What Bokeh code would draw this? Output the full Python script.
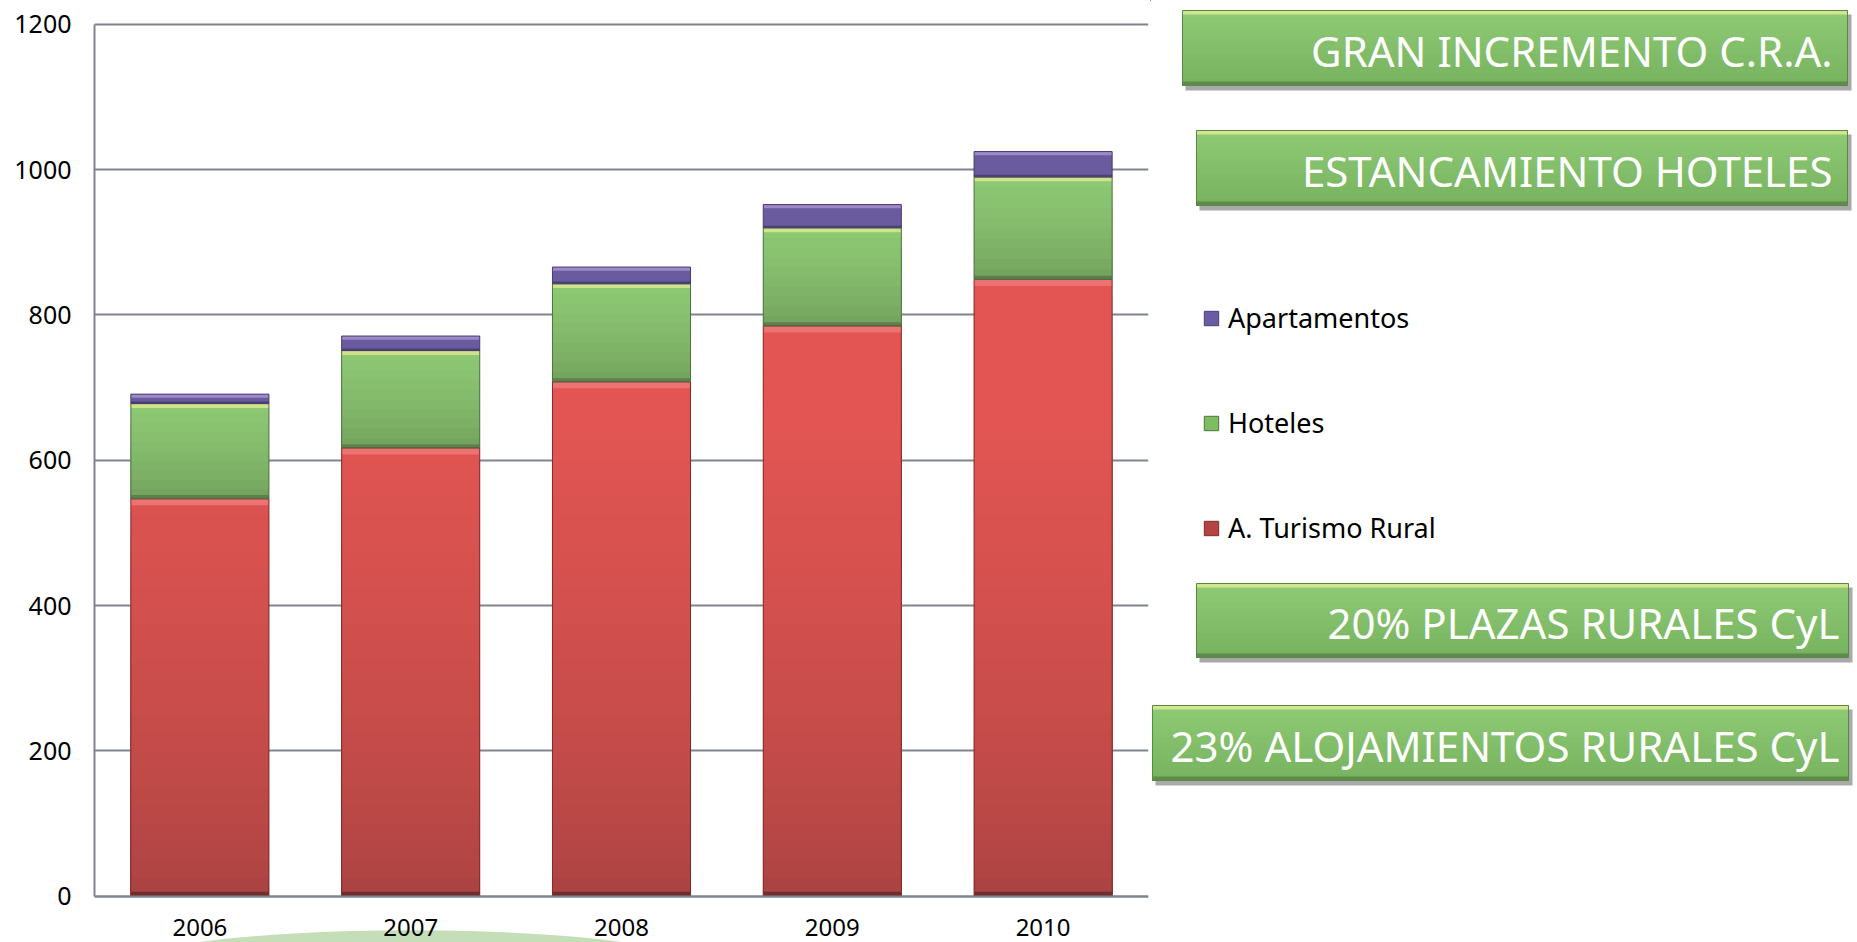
import numpy as np
from bokeh.plotting import figure
from bokeh.models import FactorRange, Range1d, FixedTicker, ColumnDataSource, Legend, LegendItem
from bokeh.layouts import row
from bokeh.embed import file_html
from bokeh.resources import INLINE
from bokeh.core.properties import value

# ---------------- data ----------------
years = ["2006", "2007", "2008", "2009", "2010"]
turismo_rural = [547, 617, 708, 785, 849]
hoteles = [131, 134, 135, 135, 141]
apartamentos = [13, 20, 23, 32, 35]
y_ticks = [0, 200, 400, 600, 800, 1000, 1200]
legend_labels = ["Apartamentos", "Hoteles", "A. Turismo Rural"]
callouts = ["GRAN INCREMENTO C.R.A.", "ESTANCAMIENTO HOTELES",
            "20% PLAZAS RURALES CyL", "23% ALOJAMIENTOS RURALES CyL"]

FONT = "Noto Sans"
GRID = "#80848E"


def hx(c):
    c = c.lstrip("#")
    return np.array([int(c[i:i + 2], 16) for i in (0, 2, 4)], dtype=float)


def mix(c1, c2, t):
    a, b = hx(c1), hx(c2)
    v = a + (b - a) * t
    return "#%02x%02x%02x" % tuple(int(round(x)) for x in v)


# ---------------- chart ----------------
# frame covers the full height; 1200 lands 24 px below the top, 0 lands ~46 px above the bottom
p = figure(width=1150, height=942, title=None,
           x_range=FactorRange(factors=years, range_padding=0),
           y_range=Range1d(-64, 1233),
           output_backend="svg", toolbar_location=None,
           min_border_left=94, min_border_right=2, min_border_top=0, min_border_bottom=0,
           outline_line_color=None, background_fill_color="white", border_fill_color="white")

p.xgrid.visible = False
p.ygrid.ticker = FixedTicker(ticks=y_ticks)
p.ygrid.grid_line_color = GRID
p.ygrid.grid_line_width = 2

p.yaxis.ticker = FixedTicker(ticks=y_ticks)
p.yaxis.bounds = (0, 1200)
p.yaxis.axis_line_color = GRID
p.yaxis.axis_line_width = 2
p.yaxis.major_tick_out = 0
p.yaxis.major_tick_in = 0
p.yaxis.minor_tick_out = 0
p.yaxis.minor_tick_in = 0
p.yaxis.major_label_standoff = 23
p.yaxis.major_label_text_font = FONT
p.yaxis.major_label_text_font_size = "25px"
p.yaxis.major_label_text_color = "#000000"

p.xaxis.fixed_location = 0
p.xaxis.axis_line_color = GRID
p.xaxis.axis_line_width = 2
p.xaxis.major_tick_out = 0
p.xaxis.major_tick_in = 0
p.xaxis.major_label_standoff = 23
p.xaxis.major_label_text_font = FONT
p.xaxis.major_label_text_font_size = "24px"
p.xaxis.major_label_text_color = "#000000"

# decorative light-green arc peeking at the bottom
p.ellipse(x=["2007"], y=[-106], width=2.9, height=118, fill_color="#C4DFB7",
          line_color=None, level="underlay")

W = 0.655
rural = np.array(turismo_rural, float)
hot_top = rural + np.array(hoteles, float)
apt_top = hot_top + np.array(apartamentos, float)

# --- red segments: vertical gradient (nested bars, tallest first -> no seams)
bx, bt, bc = [], [], []
step = 25
for i, y in enumerate(years):
    his = []
    lo = 0.0
    while lo < rural[i]:
        hi = min(lo + step, rural[i])
        his.append((hi, (lo + hi) / 2))
        lo = hi
    for hi, mid in reversed(his):
        t = min(mid / 650.0, 1.0) ** 0.6
        bx.append(y); bt.append(hi); bc.append(mix("#A54140", "#E25553", t))
p.vbar(x="x", bottom=0, top="t", width=W, fill_color="c", line_color=None,
       source=ColumnDataSource(dict(x=bx, t=bt, c=bc)))

# --- green segments: gradient within each segment (nested)
gx, gb, gt, gc = [], [], [], []
n = 10
for i, y in enumerate(years):
    h = hot_top[i] - rural[i]
    for k in reversed(range(n)):
        hi = rural[i] + h * (k + 1) / n
        t = (k + 0.5) / n
        gx.append(y); gb.append(rural[i]); gt.append(hi); gc.append(mix("#729F5C", "#8ECA74", t ** 0.7))
p.vbar(x="x", bottom="b", top="t", width=W, fill_color="c", line_color=None,
       source=ColumnDataSource(dict(x=gx, b=gb, t=gt, c=gc)))

# --- purple segments
p.vbar(x=years, bottom=hot_top, top=apt_top, width=W, fill_color="#6A5A9E", line_color=None)

# bevel highlights (top) and shadows (bottom) of each segment
p.vbar(x=years, bottom=rural - 9, top=rural, width=W, fill_color="#EC7371", line_color=None)
p.vbar(x=years, bottom=hot_top - 6, top=hot_top, width=W, fill_color="#D0E38C", line_color=None)
p.vbar(x=years, bottom=apt_top - 5, top=apt_top, width=W, fill_color="#9C89C6", line_color=None)
p.vbar(x=years, bottom=rural, top=rural + 5, width=W, fill_color="#5E7F4E", line_color=None)
p.vbar(x=years, bottom=hot_top, top=hot_top + 3, width=W, fill_color="#4B3F78", line_color=None)
p.vbar(x=years, bottom=0, top=6, width=W, fill_color="#6E2E2E", line_color=None)

# outlines
p.vbar(x=years, bottom=0, top=rural, width=W, fill_color=None, line_color="#7E2B2B", line_width=1)
p.vbar(x=years, bottom=rural, top=hot_top, width=W, fill_color=None, line_color="#4E7240", line_width=1)
p.vbar(x=years, bottom=hot_top, top=apt_top, width=W, fill_color=None, line_color="#463A74", line_width=1)

# ---------------- right panel: callouts + legend ----------------
q = figure(width=707, height=942, title=None, x_range=Range1d(0, 707), y_range=Range1d(942, 0),
           output_backend="svg", toolbar_location=None, min_border=0,
           x_axis_location=None, y_axis_location=None, outline_line_color=None,
           background_fill_color="white", border_fill_color="white")
q.xgrid.visible = False
q.ygrid.visible = False

box_left = [32, 46, 46, 2]
box_right = [697, 697, 698, 698]
box_top = [10, 130, 583, 705]
box_bottom = [85, 205, 657, 780]
text_right = [682, 682, 689, 689]

# shadows
q.quad(left=[l + 3 for l in box_left], right=[r + 4 for r in box_right],
       top=[t + 4 for t in box_top], bottom=[b + 5 for b in box_bottom],
       fill_color="#8C8C8C", fill_alpha=0.75, line_color=None)
# gradient body (nested: full box first, then progressively lower partial boxes)
ql, qr, qt, qb, qc = [], [], [], [], []
nb = 12
for i in range(4):
    h = box_bottom[i] - box_top[i]
    for k in range(nb):
        ql.append(box_left[i]); qr.append(box_right[i])
        qt.append(box_top[i] + h * k / nb); qb.append(box_bottom[i])
        qc.append(mix("#8FCB75", "#77B25F", (k + 0.5) / nb))
q.quad(left=ql, right=qr, top=qt, bottom=qb, fill_color=qc, line_color=None)
q.quad(left=box_left, right=box_right, top=box_top, bottom=[t + 4 for t in box_top],
       fill_color="#D2E690", line_color=None)
q.quad(left=box_left, right=box_right, top=[b - 4 for b in box_bottom], bottom=box_bottom,
       fill_color="#5F8A4B", line_color=None)
q.quad(left=box_left, right=box_right, top=box_top, bottom=box_bottom,
       fill_color=None, line_color="#5A8746", line_width=1)

q.text(x=text_right, y=[(t + b) / 2 + 2 for t, b in zip(box_top, box_bottom)], text=callouts,
       text_align="right", text_baseline="middle", text_color="white",
       text_font=value(FONT), text_font_size="42px")

# legend swatch renderers (their single point lies outside the visible range)
r_apt = q.vbar(x=[-100], bottom=[-100], top=[-90], width=1, fill_color="#6B5BA3", line_color="#4A3D7A")
r_hot = q.vbar(x=[-100], bottom=[-100], top=[-90], width=1, fill_color="#7DBC60", line_color="#4E7240")
r_rur = q.vbar(x=[-100], bottom=[-100], top=[-90], width=1, fill_color="#B44442", line_color="#7E2B2B")
legend = Legend(items=[LegendItem(label=legend_labels[0], renderers=[r_apt]),
                       LegendItem(label=legend_labels[1], renderers=[r_hot]),
                       LegendItem(label=legend_labels[2], renderers=[r_rur])],
                location=(52, 396), orientation="vertical",
                glyph_width=18, glyph_height=18, label_standoff=8,
                label_height=18, spacing=68, padding=0, margin=0,
                border_line_color=None, background_fill_alpha=0,
                label_text_font=FONT, label_text_font_size="27px",
                label_text_color="#000000")
q.add_layout(legend)

layout = row(p, q)
open("out.html", "w").write(file_html(layout, INLINE))
